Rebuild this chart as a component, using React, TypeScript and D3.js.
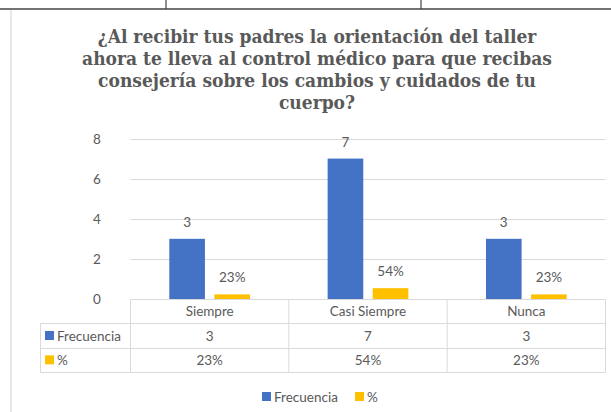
import React, { useEffect, useRef } from 'react'
import * as d3 from 'd3'

const titleLines = [
    '¿Al recibir tus padres la orientación del taller',
    'ahora te lleva al control médico para que recibas',
    'consejería sobre los cambios y cuidados de tu',
    'cuerpo?'
]
const categories = ['Siempre', 'Casi Siempre', 'Nunca']
const frecuencia = [3, 7, 3]
const porcentaje = [0.23, 0.54, 0.23]
const porcentajeLabels = ['23%', '54%', '23%']
const seriesNames = ['Frecuencia', '%']
const seriesColors = ['#4472C4', '#FFC000']
const yTicks = [0, 2, 4, 6, 8]

const W = 611
const H = 412
const textColor = '#595959'
const gridColor = '#d9d9d9'
const sans = 'Lato, Liberation Sans, sans-serif'
const fs = 13.5

const App: React.FC = () => {
    const ref = useRef<SVGSVGElement>(null)
    useEffect(() => {
        const svg = d3.select(ref.current)
        svg.selectAll('*').remove()

        svg.append('rect').attr('width', W).attr('height', H).attr('fill', '#fff')

        // page frame bits from the surrounding document
        const frame = svg.append('g')
        frame.append('line').attr('x1', 0).attr('x2', W).attr('y1', 9).attr('y2', 9)
            .attr('stroke', '#444').attr('stroke-width', 1.5)
        ;[166, 421].forEach((fx) => {
            frame.append('line').attr('x1', fx).attr('x2', fx).attr('y1', 0).attr('y2', 9)
                .attr('stroke', '#444').attr('stroke-width', 1.2)
        })
        frame.append('line').attr('x1', 11).attr('x2', 11).attr('y1', 10).attr('y2', H)
            .attr('stroke', '#d0d0d0').attr('stroke-width', 1)

        // title
        svg.append('g')
            .attr('font-family', 'DejaVu Serif Condensed, DejaVu Serif, serif')
            .attr('font-weight', 'bold')
            .attr('font-size', 19)
            .attr('fill', textColor)
            .attr('text-anchor', 'middle')
            .selectAll('text')
            .data(titleLines)
            .join('text')
            .attr('x', 317)
            .attr('y', (d, i) => 43 + i * 22)
            .text((d) => d)

        const y = d3.scaleLinear().domain([0, 8]).range([299, 138.5])
        const x = d3.scaleBand().domain(categories).range([130.5, 605.5])
        const xs = d3
            .scaleBand()
            .domain(seriesNames)
            .range([38.8, x.bandwidth() - 38.8])
            .paddingInner(0.21)

        // gridlines + y labels
        const grid = svg.append('g')
        grid.selectAll('line')
            .data(yTicks.filter((t) => t > 0))
            .join('line')
            .attr('x1', 130.5)
            .attr('x2', 605.5)
            .attr('y1', (d) => Math.round(y(d)) + 0.5)
            .attr('y2', (d) => Math.round(y(d)) + 0.5)
            .attr('stroke', gridColor)
        grid.selectAll('text')
            .data(yTicks)
            .join('text')
            .attr('x', 97)
            .attr('y', (d) => y(d) + 5)
            .attr('text-anchor', 'middle')
            .attr('fill', textColor)
            .attr('font-family', sans)
            .attr('font-size', fs)
            .text((d) => d)

        const series = [frecuencia, porcentaje]
        const labels = [frecuencia.map(String), porcentajeLabels]

        series.forEach((vals, si) => {
            const g = svg.append('g')
            g.selectAll('rect')
                .data(vals)
                .join('rect')
                .attr('x', (d, i) => (x(categories[i]) as number) + (xs(seriesNames[si]) as number))
                .attr('y', (d) => y(d))
                .attr('width', xs.bandwidth())
                .attr('height', (d) => y(0) - y(d))
                .attr('fill', seriesColors[si])
            g.selectAll('text')
                .data(vals)
                .join('text')
                .attr('x', (d, i) => (x(categories[i]) as number) + (xs(seriesNames[si]) as number) + xs.bandwidth() / 2)
                .attr('y', (d) => y(d) - 12)
                .attr('text-anchor', 'middle')
                .attr('fill', textColor)
                .attr('font-family', sans)
                .attr('font-size', fs)
                .text((d, i) => labels[si][i])
        })

        // data table
        const rows = d3.scaleBand().domain(['cat', ...seriesNames]).range([299, 372])
        const table = svg.append('g').attr('stroke', gridColor).attr('fill', 'none')
        const left = 40.5
        const right = 605.5
        table.append('line').attr('x1', 130.5).attr('x2', right).attr('y1', 299.5).attr('y2', 299.5)
        seriesNames.forEach((s) => {
            const yy = Math.round(rows(s) as number) + 0.5
            table.append('line').attr('x1', left).attr('x2', right).attr('y1', yy).attr('y2', yy)
        })
        table.append('line').attr('x1', left).attr('x2', right).attr('y1', 372.5).attr('y2', 372.5)
        const colEdges = [...categories.map((c) => x(c) as number), right]
        colEdges.forEach((cx) => {
            table.append('line').attr('x1', cx).attr('x2', cx).attr('y1', 299.5).attr('y2', 372.5)
        })
        table.append('line').attr('x1', left).attr('x2', left)
            .attr('y1', Math.round(rows('Frecuencia') as number) + 0.5).attr('y2', 372.5)

        const cellText = svg.append('g')
            .attr('fill', textColor)
            .attr('font-family', sans)
            .attr('font-size', fs)
            .attr('text-anchor', 'middle')
        const rowMid = (r: string) => (rows(r) as number) + rows.bandwidth() / 2 + 5
        cellText.selectAll('.cat')
            .data(categories)
            .join('text')
            .attr('class', 'cat')
            .attr('x', (d) => (x(d) as number) + x.bandwidth() / 2)
            .attr('y', rowMid('cat'))
            .text((d) => d)
        series.forEach((vals, si) => {
            cellText.selectAll(`.v${si}`)
                .data(vals)
                .join('text')
                .attr('class', `v${si}`)
                .attr('x', (d, i) => (x(categories[i]) as number) + x.bandwidth() / 2)
                .attr('y', rowMid(seriesNames[si]))
                .text((d, i) => labels[si][i])
        })
        // row headers with legend keys
        seriesNames.forEach((s, si) => {
            const cy = (rows(s) as number) + rows.bandwidth() / 2
            svg.append('rect').attr('x', 45).attr('y', cy - 4.5).attr('width', 9).attr('height', 9)
                .attr('fill', seriesColors[si])
            svg.append('text').attr('x', 57).attr('y', cy + 5)
                .attr('fill', textColor)
                .attr('font-family', sans)
                .attr('font-size', fs)
                .text(s)
        })

        // legend
        const legendPos = [262, 355]
        seriesNames.forEach((s, si) => {
            svg.append('rect').attr('x', legendPos[si]).attr('y', 392).attr('width', 9).attr('height', 9)
                .attr('fill', seriesColors[si])
            svg.append('text').attr('x', legendPos[si] + 12).attr('y', 401.5)
                .attr('fill', textColor)
                .attr('font-family', sans)
                .attr('font-size', fs)
                .text(s)
        })
    }, [])
    return (
        <svg
            ref={ref}
            width={W}
            height={H}
            viewBox={`0 0 ${W} ${H}`}
            style={{ position: 'absolute', left: 0, top: 0 }}
        />
    )
}

export default App
